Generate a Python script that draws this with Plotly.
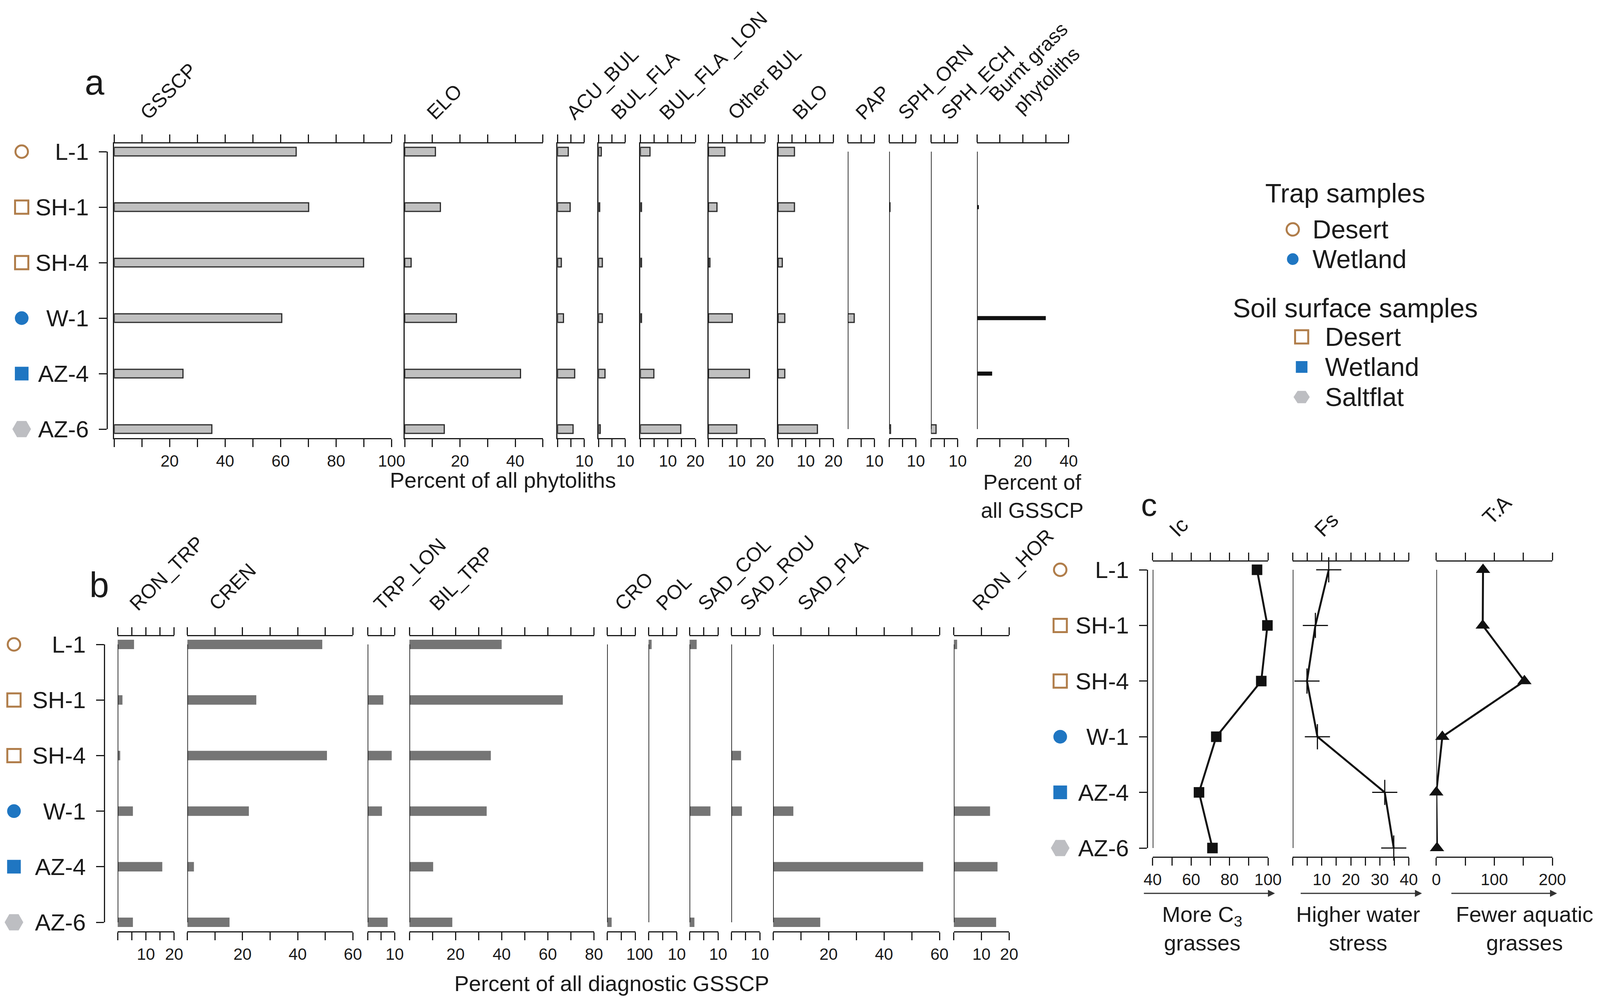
import math
import plotly.graph_objects as go

# Reference pixel frame (4135 x 2564). The page keeps its 8 px body margin, so
# the figure div fills the window minus that margin and reference positions are
# mapped into that area.
REF_W, REF_H = 4135, 2564
PAD = 8
W, H = REF_W - 2 * PAD, REF_H - 2 * PAD
FONT = "Liberation Sans, Arial, Helvetica, sans-serif"
INK = "#1a1a1a"
TAN = "#b07d4a"
BLUE = "#1f76c2"
HEXGREY = "#bdbec2"
BAR_A = "#c0c0c0"
BAR_B = "#757575"

# ---------------- data ----------------
SAMPLES = ["L-1", "SH-1", "SH-4", "W-1", "AZ-4", "AZ-6"]
SAMPLE_TYPE = ["trap-desert", "soil-desert", "soil-desert", "trap-wetland", "soil-wetland", "soil-saltflat"]

# panel a: percent of all phytoliths
GSSCP = [65.6, 70.1, 89.9, 60.4, 24.8, 35.2]
ELO = [11.1, 12.9, 2.3, 18.7, 41.9, 14.3]
ACU_BUL = [4.0, 4.7, 1.4, 2.2, 6.4, 5.8]
BUL_FLA = [1.0, 0.4, 1.4, 1.4, 2.4, 0.6]
BUL_FLA_LON = [3.5, 0.4, 0.4, 0.4, 4.9, 14.7]
OTHER_BUL = [5.8, 3.0, 0.5, 8.4, 14.5, 10.0]
BLO = [5.9, 5.9, 1.5, 2.4, 2.4, 14.2]
PAP = [0, 0, 0, 2.4, 0, 0]
SPH_ORN = [0, 0.3, 0, 0, 0, 0.5]
SPH_ECH = [0, 0, 0, 0, 0, 1.9]
# percent of all GSSCP
BURNT = [0, 0.8, 0, 30.0, 6.6, 0]

# panel b: percent of all diagnostic GSSCP
RON_TRP = [5.8, 1.7, 0.9, 5.4, 15.8, 5.4]
CREN = [48.9, 25.0, 50.6, 22.3, 2.4, 15.3]
TRP_LON = [0, 5.8, 8.9, 5.3, 0, 7.4]
BIL_TRP = [40.0, 66.5, 35.3, 33.5, 10.3, 18.6]
CRO = [0, 0, 0, 0, 0, 1.6]
POL = [1.1, 0, 0, 0, 0, 0]
SAD_COL = [2.5, 0, 0, 7.3, 0, 1.7]
SAD_ROU = [0, 0, 3.4, 3.7, 0, 0]
SAD_PLA = [0, 0, 0, 7.3, 54.1, 17.0]
RON_HOR = [1.2, 0, 0, 13.1, 15.8, 15.3]

# panel c: indices
IC = [94.3, 99.7, 96.5, 73.1, 64.1, 71.1]
FS = [12.4, 7.8, 4.9, 8.5, 31.7, 34.8]
TA = [80.5, 80.0, 151.8, 10.4, 0.0, 1.2]

# legend
LEGEND_GROUPS = [
    ("Trap samples", [("trap-desert", "Desert"), ("trap-wetland", "Wetland")]),
    ("Soil surface samples", [("soil-desert", "Desert"), ("soil-wetland", "Wetland"), ("soil-saltflat", "Saltflat")]),
]

# ---------------- styles ----------------
TYPE_STYLE = {
    "trap-desert": dict(symbol="circle-open", color=TAN, size=32),
    "trap-wetland": dict(symbol="circle", color=BLUE, size=30),
    "soil-desert": dict(symbol="square-open", color=TAN, size=34),
    "soil-wetland": dict(symbol="square", color=BLUE, size=30),
    "soil-saltflat": dict(symbol="hexagon2", color=HEXGREY, size=42),
}


def px(xp):
    return (xp - PAD) / W


def py(yp):
    return 1 - (yp - PAD) / H


fig = go.Figure()
layout = dict(
    autosize=True, margin=dict(l=0, r=0, t=0, b=0, autoexpand=False),
    paper_bgcolor="white", plot_bgcolor="rgba(0,0,0,0)",
    showlegend=False, font=dict(family=FONT, color=INK, size=42),
)
annotations = []
shapes = []
n_axes = [0]


def new_ids():
    n_axes[0] += 1
    n = n_axes[0]
    s = "" if n == 1 else str(n)
    return "x" + s, "y" + s, "xaxis" + s, "yaxis" + s


XSTYLE = dict(showline=True, linecolor=INK, linewidth=3, mirror="ticks", ticks="outside",
              ticklen=20, tickwidth=3, tickcolor=INK,
              tickfont=dict(size=42, family=FONT, color=INK), automargin=False,
              showgrid=False, zeroline=False, fixedrange=True, tickmode="array")


def yrange(p):
    step = (p["row5"] - p["row0"]) / 5
    return [5 + (p["bottom"] - p["row5"]) / step, -(p["row0"] - p["top"]) / step]


def add_panel_column(p, spec, values, kind):
    header, x0, x1, xmin, xmax, step, labelled, hdx, full_line = spec
    xn, yn, xa, ya = new_ids()
    vals = list(range(xmin, xmax + 1, step))
    layout[xa] = dict(XSTYLE, domain=[px(x0), px(x1)], range=[xmin, xmax], anchor=yn,
                      tickvals=vals, ticktext=[str(v) if v in labelled else "" for v in vals])
    layout[ya] = dict(domain=[py(p["bottom"]), py(p["top"])], type="category",
                      categoryorder="array", categoryarray=SAMPLES, range=yrange(p),
                      showticklabels=False, ticks="", showgrid=False, zeroline=False,
                      automargin=False,
                      showline=full_line, linecolor=INK, linewidth=3, anchor=xn, fixedrange=True)
    if kind == "line":
        return xn, yn
    shown = [v if v > 0 else None for v in values]
    if kind == "a":
        bar = go.Bar(x=shown, y=SAMPLES, orientation="h", width=0.155,
                     marker=dict(color=BAR_A, line=dict(color="#2a2a2a", width=3)))
    elif kind == "burnt":
        bar = go.Bar(x=shown, y=SAMPLES, orientation="h", width=0.075,
                     marker=dict(color="#111111", line=dict(width=0)))
    else:
        bar = go.Bar(x=shown, y=SAMPLES, orientation="h", width=0.17,
                     marker=dict(color=BAR_B, line=dict(width=0)))
    bar.update(xaxis=xn, yaxis=yn, hoverinfo="skip")
    fig.add_trace(bar)
    if not full_line:
        fig.add_trace(go.Scatter(x=[xmin, xmin], y=[SAMPLES[0], SAMPLES[-1]], mode="lines",
                                 line=dict(color=INK, width=3.5), xaxis=xn, yaxis=yn,
                                 hoverinfo="skip"))
    return xn, yn


def add_header(text, xpos, ybottom, size=51):
    annotations.append(dict(text=text, x=px(xpos), y=py(ybottom), xref="paper", yref="paper",
                            xanchor="left", yanchor="bottom", textangle=-45, showarrow=False,
                            align="center", font=dict(size=size, family=FONT, color=INK)))


def add_row_labels(p, xl0, bracket, mark_px):
    xn, yn, xa, ya = new_ids()
    layout[xa] = dict(domain=[px(xl0), px(bracket)], range=[0, 1], visible=False,
                      anchor=yn, fixedrange=True, automargin=False)
    layout[ya] = dict(domain=[py(p["row5"]), py(p["row0"])], type="category",
                      categoryorder="array", categoryarray=SAMPLES, range=[5, 0],
                      anchor="free", position=px(bracket), side="left",
                      showline=True, linecolor=INK, linewidth=3, ticks="outside",
                      ticklen=20, tickwidth=3, tickcolor=INK, ticklabelstandoff=14,
                      tickfont=dict(size=60, family=FONT, color=INK), automargin=False,
                      showgrid=False, zeroline=False, fixedrange=True)
    mx = (mark_px - xl0) / (bracket - xl0)
    styles = [TYPE_STYLE[t] for t in SAMPLE_TYPE]
    fig.add_trace(go.Scatter(
        x=[mx] * len(SAMPLES), y=SAMPLES, mode="markers", xaxis=xn, yaxis=yn,
        cliponaxis=False, hoverinfo="skip",
        marker=dict(symbol=[s["symbol"] for s in styles], color=[s["color"] for s in styles],
                    size=[s["size"] for s in styles], opacity=1,
                    line=dict(color=[s["color"] for s in styles], width=5))))


# ---------------- panel a ----------------
PA = dict(top=367, bottom=1121, row0=388, row5=1098)
A_COLS = [
    # header, x0, x1, xmin, xmax, tick step, labelled ticks, header dx, full zero line
    (("GSSCP", 295, 1012, 0, 100, 10, [20, 40, 60, 80, 100], 53, True), GSSCP, "a"),
    (("ELO", 1046, 1403, 0, 50, 10, [20, 40], 43, True), ELO, "a"),
    (("ACU_BUL", 1441, 1510, 0, 10, 5, [10], 9, True), ACU_BUL, "a"),
    (("BUL_FLA", 1547, 1616, 0, 10, 5, [10], 18, True), BUL_FLA, "a"),
    (("BUL_FLA _LON", 1655, 1797, 0, 20, 5, [10, 20], 35, True), BUL_FLA_LON, "a"),
    (("Other BUL", 1831, 1977, 0, 20, 5, [10, 20], 36, True), OTHER_BUL, "a"),
    (("BLO", 2011, 2154, 0, 20, 5, [10, 20], 23, True), BLO, "a"),
    (("PAP", 2191, 2260, 0, 10, 5, [10], 6, False), PAP, "a"),
    (("SPH_ORN", 2298, 2367, 0, 10, 5, [10], 9, False), SPH_ORN, "a"),
    (("SPH_ECH", 2406, 2475, 0, 10, 5, [10], 12, False), SPH_ECH, "a"),
    (("Burnt grass<br>phytoliths", 2525, 2762, 0, 40, 10, [20, 40], 16, False), BURNT, "burnt"),
]
for spec, vals, kind in A_COLS:
    add_panel_column(PA, spec, vals, kind)
    add_header(spec[0], spec[1] + spec[7], 320)
add_row_labels(PA, PAD, 277, 56)

# ---------------- panel b ----------------
PB = dict(top=1628, bottom=2383, row0=1649, row5=2360)
B_COLS = [
    (("RON_TRP", 304, 450, 0, 20, 5, [10, 20], 17, False), RON_TRP),
    (("CREN", 484, 912, 0, 60, 10, [20, 40, 60], 42, False), CREN),
    (("TRP_LON", 950, 1020, 0, 10, 5, [10], 2, False), TRP_LON),
    (("BIL_TRP", 1058, 1535, 0, 80, 10, [20, 40, 60, 80], 38, False), BIL_TRP),
    (("CRO", 1569, 1642, 0, 10, 5, [10], 5, False), CRO),
    (("POL", 1676, 1749, 0, 10, 5, [0, 10], 6, False), POL),
    (("SAD_COL", 1782, 1856, 0, 10, 5, [10], 8, False), SAD_COL),
    (("SAD_ROU", 1890, 1964, 0, 10, 5, [10], 8, False), SAD_ROU),
    (("SAD_PLA", 1998, 2428, 0, 60, 10, [20, 40, 60], 49, False), SAD_PLA),
    (("RON _HOR", 2465, 2608, 0, 20, 10, [10, 20], 34, False), RON_HOR),
]
for spec, vals in B_COLS:
    add_panel_column(PB, spec, vals, "b")
    add_header(spec[0], spec[1] + spec[7], 1576)
add_row_labels(PB, PAD, 269, 36)

# ---------------- panel c ----------------
PC = dict(top=1437, bottom=2192, row0=1458, row5=2170)
C_COLS = [
    (("Ic", 2979, 3277, 40, 100, 10, [40, 60, 80, 100], 28, False), IC,
     dict(symbol="square", size=27, color="#111111", line=dict(width=0))),
    (("Fs", 3341, 3641, 0, 40, 5, [10, 20, 30, 40], 41, False), FS,
     dict(symbol="cross-thin", size=46, color="#111111", line=dict(color="#111111", width=3))),
    (("T:A", 3712, 4012, 0, 200, 50, [0, 100, 200], 104, False), TA,
     dict(symbol="triangle-up", size=32, color="#111111", line=dict(width=0))),
]
for spec, vals, mk in C_COLS:
    xn, yn = add_panel_column(PC, spec, vals, "line")
    xmin = spec[3]
    fig.add_trace(go.Scatter(x=[xmin, xmin], y=[SAMPLES[0], SAMPLES[-1]], mode="lines",
                             line=dict(color=INK, width=3.5), xaxis=xn, yaxis=yn, hoverinfo="skip"))
    fig.add_trace(go.Scatter(x=vals, y=SAMPLES, mode="lines+markers", xaxis=xn, yaxis=yn,
                             cliponaxis=False, hoverinfo="skip",
                             line=dict(color="#111111", width=5), marker=mk))
    add_header(spec[0], spec[1] + spec[7], 1387 if spec[0] != "T:A" else 1357, size=54)
add_row_labels(PC, 2700, 2965, 2740)

# ---------------- text ----------------
def text(t, x, y, size, xanchor="center", yanchor="middle"):
    annotations.append(dict(text=t, x=px(x), y=py(y), xref="paper", yref="paper",
                            xanchor=xanchor, yanchor=yanchor, showarrow=False, align="center",
                            font=dict(size=size, family=FONT, color=INK)))


text("a", 245, 211, 90)
text("b", 256, 1497, 90)
text("c", 2970, 1291, 82)
text("Percent of all phytoliths", 1300, 1229, 56)
text("Percent of<br>all GSSCP", 2668, 1270, 55)
text("Percent of all diagnostic GSSCP", 1581, 2516, 56)
text("More C<sub>3</sub><br>grasses", 3107, 2376, 56)
text("Higher water<br>stress", 3510, 2376, 56)
text("Fewer aquatic<br>grasses", 3940, 2376, 56)

for x0, x1 in [(2958, 3295), (3363, 3675), (3752, 4024)]:
    annotations.append(dict(text="", x=px(x1), y=py(2286), xref="paper", yref="paper",
                            ax=-(x1 - x0), ay=0, axref="pixel", ayref="pixel",
                            showarrow=True, arrowhead=2, arrowsize=1.2, arrowwidth=3,
                            arrowcolor="#333333"))

# ---------------- legend ----------------
legend_layout = [
    dict(title_x=3476, title_y=494, mark_x=3341, text_x=3390, first_y=587, step=76),
    dict(title_x=3503, title_y=788, mark_x=3364, text_x=3422, first_y=862, step=77),
]
for (title, items), lay in zip(LEGEND_GROUPS, legend_layout):
    text(title, lay["title_x"], lay["title_y"], 68)
    for i, (tkey, label) in enumerate(items):
        cy = lay["first_y"] + i * lay["step"]
        cx = lay["mark_x"]
        st = TYPE_STYLE[tkey]
        r = st["size"] / 2
        if st["symbol"].startswith("circle"):
            open_ = st["symbol"].endswith("open")
            shapes.append(dict(type="circle", xref="paper", yref="paper",
                               x0=px(cx - r), x1=px(cx + r), y0=py(cy + r), y1=py(cy - r),
                               line=dict(color=st["color"], width=5 if open_ else 0),
                               fillcolor="rgba(0,0,0,0)" if open_ else st["color"]))
        elif st["symbol"].startswith("square"):
            open_ = st["symbol"].endswith("open")
            shapes.append(dict(type="rect", xref="paper", yref="paper",
                               x0=px(cx - r), x1=px(cx + r), y0=py(cy + r), y1=py(cy - r),
                               line=dict(color=st["color"], width=5 if open_ else 0),
                               fillcolor="rgba(0,0,0,0)" if open_ else st["color"]))
        else:
            pts = [(cx + r * math.cos(math.radians(a)), cy + r * 0.87 * math.sin(math.radians(a)))
                   for a in range(0, 360, 60)]
            path = "M " + " L ".join(f"{px(a):.5f},{py(b):.5f}" for a, b in pts) + " Z"
            shapes.append(dict(type="path", xref="paper", yref="paper", path=path,
                               fillcolor=st["color"], line=dict(width=0)))
        text(label, lay["text_x"], cy, 66, xanchor="left")

layout["annotations"] = annotations
layout["shapes"] = shapes
fig.update_layout(**layout)
fig.write_html("out.html", config={"responsive": True},
               default_width="calc(100vw - 16px)", default_height="calc(100vh - 16px)")
